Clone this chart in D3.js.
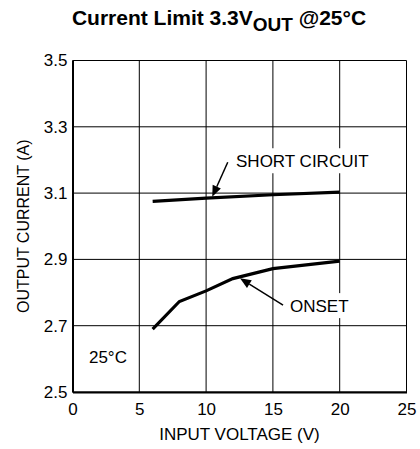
<!DOCTYPE html>
<html>
<head>
<meta charset="utf-8">
<script src="https://cdn.jsdelivr.net/npm/d3@7"></script>
<style>
  html, body { margin: 0; padding: 0; background: #fff; }
  svg { display: block; font-family: "Liberation Sans", Arial, sans-serif; }
</style>
</head>
<body>
<svg id="chart" width="420" height="449"></svg>
<script>
// ---- data ----
const xTicks = [0, 5, 10, 15, 20, 25];
const yTicks = [2.5, 2.7, 2.9, 3.1, 3.3, 3.5];
const shortCircuitV = [6, 10, 15, 20];
const shortCircuitI = [3.075, 3.085, 3.095, 3.103];
const onsetV = [6, 8, 10, 12, 15, 20];
const onsetI = [2.69, 2.773, 2.805, 2.842, 2.872, 2.895];
const labels = [
  { text: "SHORT CIRCUIT", x: 12.24, y: 3.178, tail: [11.62, 3.193], tip: [10.46, 3.089] },
  { text: "ONSET", x: 16.28, y: 2.741, tail: [15.76, 2.762], tip: [12.54, 2.843] }
];
const tempLabel = { text: "25°C", x: 1.23, y: 2.588 };

// ---- scales ----
const svg = d3.select("#chart");
const x = d3.scaleLinear().domain([0, 25]).range([72.5, 406.5]);
const y = d3.scaleLinear().domain([2.5, 3.5]).range([392, 60.5]);

// title
const title = svg.append("text")
  .attr("x", 219).attr("y", 25)
  .attr("text-anchor", "middle")
  .attr("font-weight", "bold").attr("font-size", 21).attr("fill", "#000");
title.append("tspan").text("Current Limit 3.3V");
title.append("tspan").attr("dy", 6).attr("font-size", 19).text("OUT");
title.append("tspan").attr("dy", -6).text(" @25°C");

// grid
const g = svg.append("g");
g.selectAll("line.hg").data(yTicks).join("line")
  .attr("x1", x(0)).attr("x2", x(25))
  .attr("y1", d => y(d)).attr("y2", d => y(d))
  .attr("stroke", "#000").attr("stroke-width", 1);
g.selectAll("line.vg").data(xTicks).join("line")
  .attr("y1", y(2.5)).attr("y2", y(3.5))
  .attr("x1", d => x(d)).attr("x2", d => x(d))
  .attr("stroke", "#000").attr("stroke-width", 1);

// axes via d3
const xAxis = d3.axisBottom(x).tickValues(xTicks).tickSize(0).tickPadding(11).tickFormat(d3.format("d"));
const yAxis = d3.axisLeft(y).tickValues(yTicks).tickSize(0).tickPadding(5).tickFormat(d3.format(".1f"));
const gx = svg.append("g").attr("transform", `translate(0,${y(2.5)})`).call(xAxis);
const gy = svg.append("g").attr("transform", `translate(${x(0)},0)`).call(yAxis);
[gx, gy].forEach(a => {
  a.select(".domain").attr("stroke", "#000").attr("stroke-width", 2);
  a.selectAll("text").attr("font-size", 17).attr("fill", "#000")
    .attr("font-family", "Liberation Sans, Arial, sans-serif");
});

// axis titles
svg.append("text").attr("x", x(12.5)).attr("y", 440).attr("text-anchor", "middle")
  .attr("font-size", 17).attr("fill", "#000").text("INPUT VOLTAGE (V)");
svg.append("text").attr("transform", `translate(29,${y(3.0)}) rotate(-90)`)
  .attr("text-anchor", "middle").attr("font-size", 16).attr("fill", "#000")
  .text("OUTPUT CURRENT (A)");

// label backgrounds (white boxes interrupting grid)
labels.forEach(l => {
  const w = l.text.length * 10.2 + 6;
  svg.append("rect")
    .attr("x", x(l.x) - 4).attr("y", y(l.y) - 19)
    .attr("width", w).attr("height", 25)
    .attr("fill", "#fff");
});

// curves
const line = d3.line().x(d => x(d[0])).y(d => y(d[1]));
svg.append("path").datum(d3.zip(shortCircuitV, shortCircuitI))
  .attr("d", line).attr("fill", "none").attr("stroke", "#000").attr("stroke-width", 3.2);
svg.append("path").datum(d3.zip(onsetV, onsetI))
  .attr("d", line).attr("fill", "none").attr("stroke", "#000").attr("stroke-width", 3.2);

// labels & arrows
labels.forEach(l => {
  svg.append("text").attr("x", x(l.x)).attr("y", y(l.y))
    .attr("font-size", 17).attr("fill", "#000").text(l.text);
  const x1 = x(l.tail[0]), y1 = y(l.tail[1]), x2 = x(l.tip[0]), y2 = y(l.tip[1]);
  const ang = Math.atan2(y2 - y1, x2 - x1);
  const hl = 11, hw = 4.5;
  const bx = x2 - hl * Math.cos(ang), by = y2 - hl * Math.sin(ang);
  svg.append("line").attr("x1", x1).attr("y1", y1).attr("x2", bx).attr("y2", by)
    .attr("stroke", "#000").attr("stroke-width", 1.5);
  const px = -Math.sin(ang) * hw, py = Math.cos(ang) * hw;
  svg.append("path")
    .attr("d", `M${x2},${y2}L${bx + px},${by + py}L${bx - px},${by - py}Z`)
    .attr("fill", "#000");
});

svg.append("text").attr("x", x(tempLabel.x)).attr("y", y(tempLabel.y))
  .attr("font-size", 17).attr("fill", "#000").text(tempLabel.text);
</script>
</body>
</html>
